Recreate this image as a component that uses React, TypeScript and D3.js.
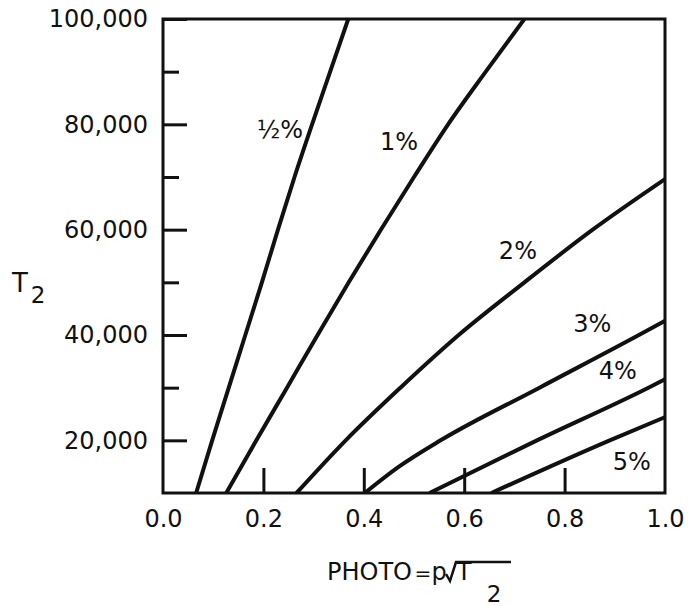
import React, { useEffect, useRef } from 'react';
import * as d3 from 'd3';

// percent curves: photo value (x) at given T2 (y)
const seriesLabels = ['½%', '1%', '2%', '3%', '4%', '5%'];

const t2Half = [10000, 20000, 30000, 40000, 50000, 60000, 70000, 80000, 90000, 100000];
const photoHalf = [0.066, 0.098, 0.131, 0.164, 0.197, 0.229, 0.262, 0.297, 0.333, 0.369];

const t2One = [10000, 20000, 30000, 40000, 50000, 60000, 70000, 80000, 90000, 100000];
const photoOne = [0.126, 0.186, 0.247, 0.308, 0.37, 0.434, 0.5, 0.568, 0.643, 0.72];

const t2Two = [10000, 20000, 30000, 40000, 50000, 60000, 69600];
const photoTwo = [0.266, 0.364, 0.473, 0.589, 0.72, 0.856, 1.0];

const t2Three = [10000, 15000, 20000, 30000, 40000, 42700];
const photoThree = [0.402, 0.47, 0.553, 0.75, 0.948, 1.0];

const t2Four = [10000, 20000, 30000, 31600];
const photoFour = [0.531, 0.745, 0.967, 1.0];

const t2Five = [10000, 20000, 24400];
const photoFive = [0.654, 0.89, 1.0];

// where each curve's label sits, in data units (photo, T2)
const labelPhoto = [0.233, 0.47, 0.707, 0.855, 0.906, 0.934];
const labelT2 = [79100, 76800, 56100, 42300, 33200, 16100];

const yMajor = [20000, 40000, 60000, 80000, 100000];
const yMinor = [30000, 50000, 70000, 90000];
const xLabels = [0, 0.2, 0.4, 0.6, 0.8, 1.0];
const xInnerTicks = [0.2, 0.4, 0.6, 0.8];

const App: React.FC = () => {
  const svgRef = useRef<SVGSVGElement>(null);

  useEffect(() => {
    if (!svgRef.current) return;
    const svg = d3.select(svgRef.current);
    svg.selectAll('*').remove();

    const width = 689;
    const height = 606;
    const margin = { top: 19, right: 24, bottom: 113, left: 163 };
    const ink = '#111';
    const font = 'DejaVu Sans, sans-serif';

    const x = d3.scaleLinear().domain([0, 1]).range([margin.left, width - margin.right]);
    const y = d3.scaleLinear().domain([10000, 100000]).range([height - margin.bottom, margin.top]);

    const series = [
      d3.zip(photoHalf, t2Half),
      d3.zip(photoOne, t2One),
      d3.zip(photoTwo, t2Two),
      d3.zip(photoThree, t2Three),
      d3.zip(photoFour, t2Four),
      d3.zip(photoFive, t2Five),
    ] as [number, number][][];

    svg.append('clipPath').attr('id', 'plot-clip')
      .append('rect')
      .attr('x', margin.left).attr('y', margin.top)
      .attr('width', width - margin.left - margin.right)
      .attr('height', height - margin.top - margin.bottom);

    const line = d3.line<[number, number]>()
      .x(d => x(d[0]))
      .y(d => y(d[1]))
      .curve(d3.curveMonotoneX);

    // Curves
    svg.append('g')
      .attr('clip-path', 'url(#plot-clip)')
      .selectAll('path')
      .data(series)
      .join('path')
      .attr('d', d => line(d))
      .attr('fill', 'none')
      .attr('stroke', ink)
      .attr('stroke-width', 4);

    // Curve labels
    svg.append('g')
      .attr('font-family', font)
      .attr('font-size', 24)
      .attr('fill', ink)
      .attr('text-anchor', 'middle')
      .selectAll('text')
      .data(seriesLabels)
      .join('text')
      .attr('x', (_, i) => x(labelPhoto[i]))
      .attr('y', (_, i) => y(labelT2[i]))
      .attr('dy', '0.36em')
      .text(d => d);

    // Frame
    svg.append('rect')
      .attr('x', margin.left).attr('y', margin.top)
      .attr('width', width - margin.left - margin.right)
      .attr('height', height - margin.top - margin.bottom)
      .attr('fill', 'none')
      .attr('stroke', ink)
      .attr('stroke-width', 3);

    // Y axis, major ticks with labels
    svg.append('g')
      .attr('transform', `translate(${margin.left},0)`)
      .call(d3.axisLeft(y).tickValues(yMajor).tickSize(-24).tickPadding(15).tickFormat(d3.format(',')))
      .call(g => g.select('.domain').remove())
      .call(g => g.selectAll('line').attr('stroke', ink).attr('stroke-width', 3))
      .call(g => g.selectAll('text').attr('fill', ink))
      .attr('font-family', font)
      .attr('font-size', 24);

    // Y axis, minor ticks
    svg.append('g')
      .attr('transform', `translate(${margin.left},0)`)
      .call(d3.axisLeft(y).tickValues(yMinor).tickSize(-16).tickFormat(() => ''))
      .call(g => g.select('.domain').remove())
      .call(g => g.selectAll('line').attr('stroke', ink).attr('stroke-width', 3));

    // X axis, inner ticks
    svg.append('g')
      .attr('transform', `translate(0,${height - margin.bottom})`)
      .call(d3.axisBottom(x).tickValues(xInnerTicks).tickSize(-25).tickFormat(() => ''))
      .call(g => g.select('.domain').remove())
      .call(g => g.selectAll('line').attr('stroke', ink).attr('stroke-width', 3));

    // X axis labels
    svg.append('g')
      .attr('transform', `translate(0,${height - margin.bottom})`)
      .call(d3.axisBottom(x).tickValues(xLabels).tickSize(0).tickPadding(17).tickFormat(d3.format('.1f')))
      .call(g => g.select('.domain').remove())
      .call(g => g.selectAll('text').attr('fill', ink))
      .attr('font-family', font)
      .attr('font-size', 24);

    // Y title: T2
    const yTitle = svg.append('g').attr('font-family', font).attr('fill', ink).attr('text-anchor', 'middle');
    yTitle.append('text').attr('x', 20).attr('y', 292).attr('font-size', 26).text('T');
    yTitle.append('text').attr('x', 38).attr('y', 303).attr('font-size', 23).text('2');

    // X title: PHOTO = p√T2
    const xTitle = svg.append('g').attr('font-family', font).attr('fill', ink).attr('font-size', 24);
    xTitle.append('text').attr('x', 327).attr('y', 580).text('PHOTO');
    xTitle.append('text').attr('x', 423).attr('y', 580).attr('font-size', 20).attr('text-anchor', 'middle').text('=');
    xTitle.append('text').attr('x', 439).attr('y', 580).attr('text-anchor', 'middle').text('p');
    xTitle.append('text').attr('x', 464).attr('y', 580).attr('text-anchor', 'middle').text('T');
    xTitle.append('text').attr('x', 494).attr('y', 602).attr('font-size', 23).attr('text-anchor', 'middle').text('2');
    xTitle.append('path')
      .attr('d', 'M446,574 L450,581 L456,562 L511,562')
      .attr('fill', 'none')
      .attr('stroke', ink)
      .attr('stroke-width', 2.5);
  }, []);

  return (
    <svg
      ref={svgRef}
      width={689}
      height={606}
      style={{ position: 'absolute', left: 0, top: 0, background: '#fff' }}
    />
  );
};

export default App;
